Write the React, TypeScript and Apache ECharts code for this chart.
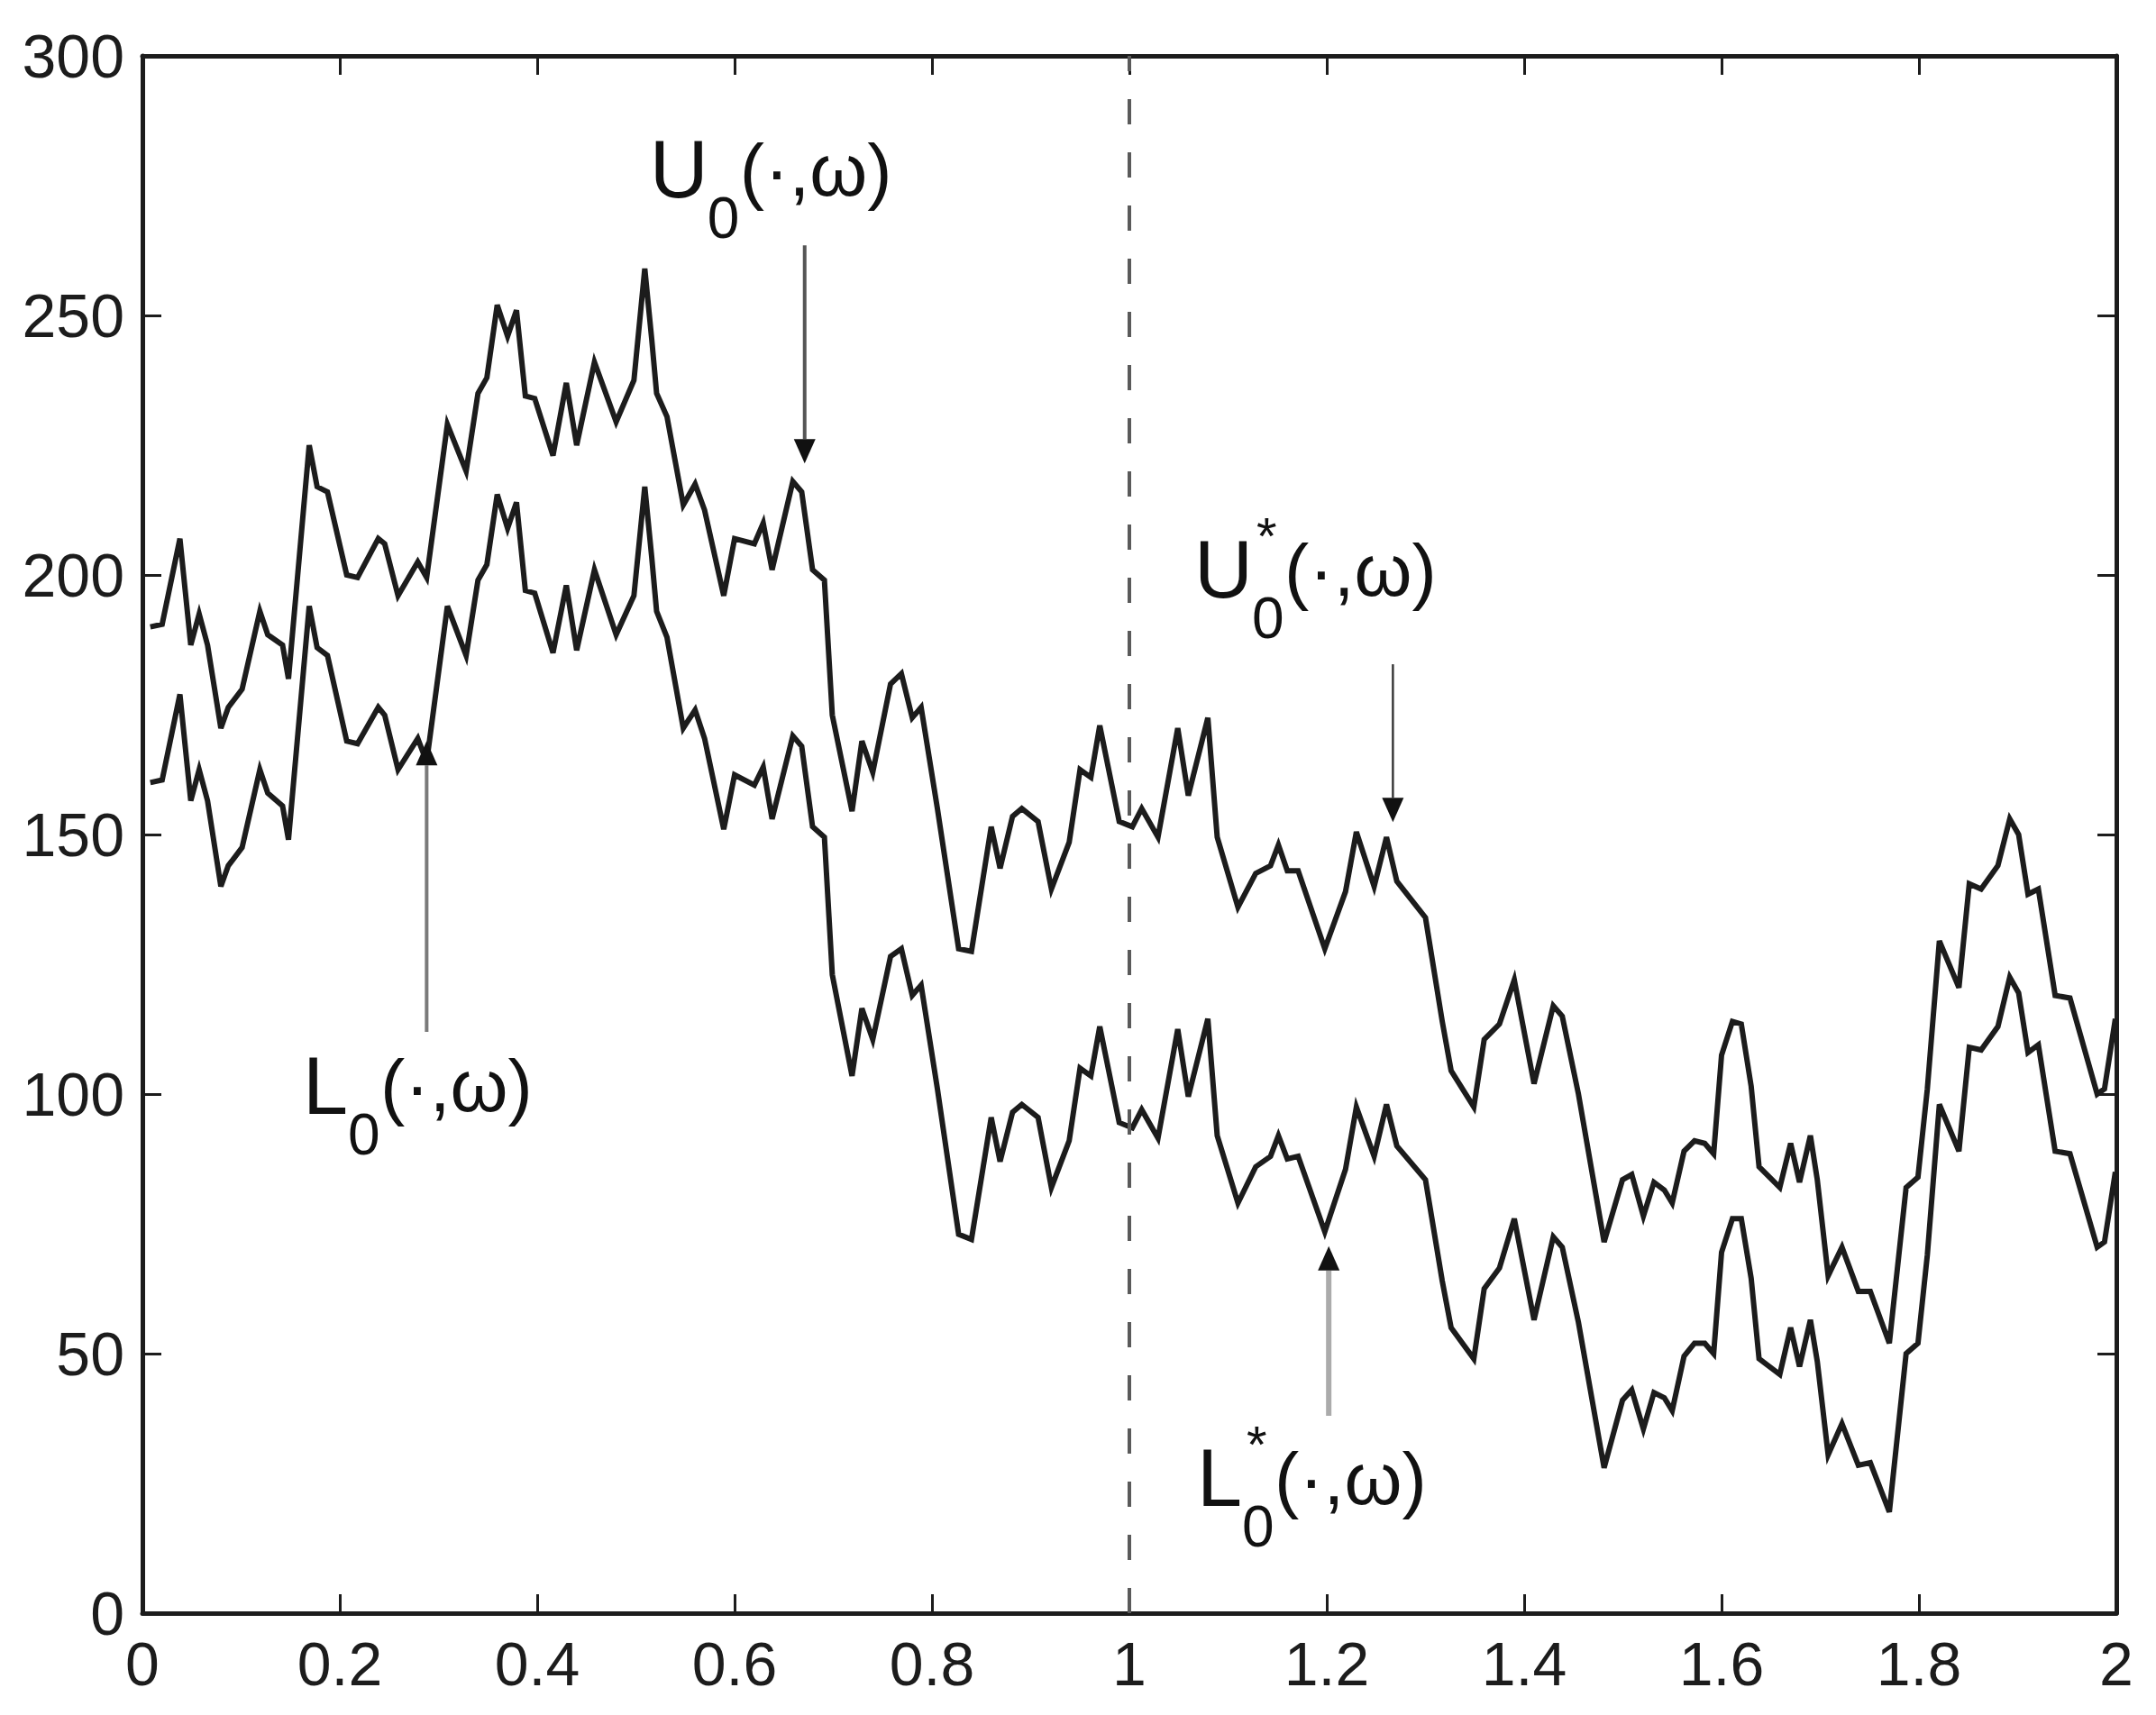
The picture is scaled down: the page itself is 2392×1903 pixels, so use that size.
import React, { useEffect, useRef } from "react";
import * as echarts from "echarts";

// time grid (shared by both curves)
const T = [
  0.008, 0.02, 0.038, 0.049, 0.0575, 0.066, 0.0795, 0.087, 0.101, 0.119, 0.127, 0.142, 0.148, 0.169, 0.177, 0.1875,
  0.207, 0.218, 0.239, 0.2455, 0.259, 0.279, 0.288, 0.309, 0.328, 0.34, 0.349, 0.3595, 0.37, 0.379, 0.388, 0.3975,
  0.416, 0.4295, 0.44, 0.458, 0.48, 0.498, 0.509, 0.516, 0.521, 0.5315, 0.548, 0.56, 0.5696, 0.589, 0.6, 0.62,
  0.629, 0.638, 0.659, 0.668, 0.679, 0.691, 0.699, 0.719, 0.729, 0.74, 0.758, 0.769, 0.78, 0.789, 0.8055, 0.827,
  0.84, 0.86, 0.869, 0.8816, 0.891, 0.9075, 0.921, 0.939, 0.95, 0.961, 0.97, 0.9897, 1.003, 1.0125, 1.029, 1.049,
  1.0597, 1.0795, 1.089, 1.11, 1.128, 1.143, 1.151, 1.16, 1.171, 1.198, 1.219, 1.23, 1.248, 1.2605, 1.271, 1.3,
  1.317, 1.326, 1.349, 1.3595, 1.375, 1.39, 1.41, 1.4295, 1.4386, 1.455, 1.481, 1.4996, 1.509, 1.5208, 1.5315, 1.542,
  1.55, 1.562, 1.5726, 1.583, 1.592, 1.6, 1.611, 1.62, 1.63, 1.638, 1.659, 1.67, 1.679, 1.69, 1.697, 1.708,
  1.722, 1.7386, 1.7507, 1.77, 1.787, 1.799, 1.8085, 1.8207, 1.8405, 1.851, 1.863, 1.88, 1.892, 1.901, 1.9105, 1.921,
  1.938, 1.953, 1.9806, 1.988, 1.999,
];

// upper curve U0(.,w)
const U = [
  190, 190.5, 207, 186.5, 192.5, 186.5, 170.5, 174.5, 178, 193, 188.5, 186.5, 180, 225, 217, 216,
  200, 199.5, 207, 206, 196, 202.5, 199.5, 229, 220, 235, 238, 252, 246, 251, 234.5, 234,
  223, 237, 225, 241, 229.5, 237.5, 259, 245.5, 235, 230.5, 213.5, 217.5, 212.5, 196, 207, 206,
  210, 201, 218, 216, 201, 199, 173, 154.5, 168, 162, 179, 181, 172.5, 174.5, 155, 128,
  127.5, 151.5, 143.5, 153.5, 155, 152.5, 139.5, 148.5, 162.5, 161, 171, 152.5, 151.5, 155, 149.5, 170.5,
  157.5, 172.5, 149.5, 136, 142.5, 144, 148, 143, 143, 128, 139, 150.5, 140, 149.5, 141, 134,
  114, 104.5, 97.5, 110.5, 113.5, 122, 102, 117, 115, 100, 71.5, 83.5, 84.5, 76.5, 83, 81.5,
  79, 89, 91, 90.5, 88.5, 107.5, 114, 113.5, 101.5, 86, 82, 90.5, 83, 92, 83.5, 65,
  70.5, 62, 62, 52, 82, 84, 101, 129.5, 120.5, 140.5, 139.5, 144, 153, 150, 138.5, 139.5,
  119, 118.5, 100, 101, 114.5,
];

// lower curve L0(.,w)
const L = [
  160, 160.5, 177, 156.5, 162.5, 156.5, 140, 144, 147.5, 162.5, 158, 155.5, 149, 194, 186, 184.5,
  168, 167.5, 174.5, 173, 162.5, 168.5, 164, 194, 184.5, 199, 202, 215.5, 209, 214, 197, 196.5,
  185, 198, 185.5, 201, 188.5, 196, 217, 203.5, 193, 188, 170.5, 174, 168.5, 151, 161.5, 159.5,
  163, 153, 169, 167, 151.5, 149.5, 123, 103.5, 116.5, 110.5, 126.5, 128, 119, 121, 101, 73,
  72, 95.5, 87, 96.5, 98, 95.5, 82, 91, 105, 103.5, 113, 94.5, 93.5, 97, 91.5, 112.5,
  99.5, 114.5, 92, 79, 86, 88, 92, 87.5, 88, 73.5, 85.5, 97.5, 88, 98, 90, 83.5,
  64, 55, 49, 62.5, 66.5, 76, 56.5, 72.5, 70.5, 56, 28, 41, 43, 35.5, 42.5, 41.5,
  39, 49.5, 52, 52, 50, 69.5, 76, 76, 64.5, 49, 46, 55, 47.5, 56.5, 48.5, 30.5,
  36.5, 28.5, 29, 19.5, 50, 52, 69, 98, 89, 109, 108.5, 113, 122.5, 119.5, 108, 109.5,
  89, 88.5, 70.5, 71.5, 85,
];

// axes
const X_MIN = 0;
const X_MAX = 2;
const X_STEP = 0.2;
const Y_MIN = 0;
const Y_MAX = 300;
const Y_STEP = 50;
const DIVIDER_X = [1];

// annotation arrows (data coordinates): x, start value, tip value
const ARROW_NAMES = ["U0", "U0*", "L0", "L0*"];
const ARROW_X = [0.671, 1.267, 0.288, 1.202];
const ARROW_FROM = [263.5, 182.8, 112, 38];
const ARROW_TIP = [221.5, 152.4, 168, 70.7];

// annotation labels (anchor: left of main letter, cap centre)
const LABEL_MAIN = ["U", "U", "L", "L"];
const LABEL_STAR = [false, true, false, true];
const LABEL_X = [0.514, 1.0658, 0.1626, 1.0685];
const LABEL_Y = [278.1, 201.0, 101.6, 26.0];

const FONT = '"Liberation Sans", Arial, Helvetica, sans-serif';
const INK = "#1c1c1c";

export default function App() {
  const ref = useRef<HTMLDivElement>(null);

  useEffect(() => {
    if (!ref.current) return;
    const chart = echarts.init(ref.current, null, { renderer: "svg" });

    const axisLine = { show: true, onZero: false, lineStyle: { color: INK, width: 5 } };
    const axisTick = { show: true, inside: true, length: 21, lineStyle: { color: INK, width: 3 } };
    const fmt = (v: number) => String(Math.round(v * 10) / 10);

    chart.setOption({
      animation: false,
      backgroundColor: "#ffffff",
      grid: { left: 158, right: 44, top: 62, bottom: 113, containLabel: false },
      xAxis: [
        {
          type: "value", min: X_MIN, max: X_MAX, interval: X_STEP, position: "bottom",
          axisLine, axisTick, splitLine: { show: false },
          axisLabel: { show: true, margin: 22, fontSize: 68, fontFamily: FONT, color: INK, formatter: fmt },
        },
        {
          type: "value", min: X_MIN, max: X_MAX, interval: X_STEP, position: "top",
          axisLine, axisTick, splitLine: { show: false }, axisLabel: { show: false },
        },
      ],
      yAxis: [
        {
          type: "value", min: Y_MIN, max: Y_MAX, interval: Y_STEP, position: "left",
          axisLine, axisTick, splitLine: { show: false },
          axisLabel: { show: true, margin: 20, fontSize: 68, fontFamily: FONT, color: INK, formatter: fmt },
        },
        {
          type: "value", min: Y_MIN, max: Y_MAX, interval: Y_STEP, position: "right",
          axisLine, axisTick, splitLine: { show: false }, axisLabel: { show: false },
        },
      ],
      series: [
        {
          name: "U0", type: "line", xAxisIndex: 0, yAxisIndex: 0,
          data: T.map((t, i) => [t, U[i]]),
          showSymbol: false, symbol: "none", silent: true, z: 3,
          lineStyle: { color: INK, width: 6, join: "miter" },
          markLine: {
            silent: true, symbol: ["none", "none"], label: { show: false },
            lineStyle: { type: [28, 31], color: "#5a5a5a", width: 4 },
            data: DIVIDER_X.map((x) => ({ xAxis: x })),
          },
        },
        {
          name: "L0", type: "line", xAxisIndex: 0, yAxisIndex: 0,
          data: T.map((t, i) => [t, L[i]]),
          showSymbol: false, symbol: "none", silent: true, z: 3,
          lineStyle: { color: INK, width: 6, join: "miter" },
        },
      ],
    });

    const toPx = (x: number, y: number) =>
      chart.convertToPixel({ xAxisIndex: 0, yAxisIndex: 0 }, [x, y]) as number[];

    const shaftColors = ["#555555", "#3a3a3a", "#7a7a7a", "#ababab"];
    const shaftWidths = [4, 2.5, 4, 6];
    const graphics: any[] = [];

    ARROW_NAMES.forEach((_, i) => {
      const [px, py0] = toPx(ARROW_X[i], ARROW_FROM[i]);
      const [, py1] = toPx(ARROW_X[i], ARROW_TIP[i]);
      const dir = py1 > py0 ? 1 : -1;
      const head = 27;
      const hw = 12;
      const baseY = py1 - dir * head;
      graphics.push({
        type: "line", silent: true, z: 10,
        shape: { x1: px, y1: py0, x2: px, y2: baseY },
        style: { stroke: shaftColors[i], lineWidth: shaftWidths[i] },
      });
      graphics.push({
        type: "polygon", silent: true, z: 11,
        shape: { points: [[px - hw, baseY], [px + hw, baseY], [px, py1]] },
        style: { fill: "#111111" },
      });
    });

    LABEL_MAIN.forEach((m, i) => {
      const [px, py] = toPx(LABEL_X[i], LABEL_Y[i]);
      const mainW = m === "U" ? 64 : 50;
      const txt = (text: string, dx: number, dy: number, size: number) => ({
        type: "text", silent: true, z: 12, x: px + dx, y: py + dy,
        style: { text, fontSize: size, fontFamily: FONT, fill: "#111111", align: "left", verticalAlign: "middle" },
      });
      graphics.push(txt(m, 0, 0, 90));
      graphics.push(txt("0", mainW, 54, 64));
      graphics.push(txt("(·,ω)", mainW + 36, 0, 82));
      if (LABEL_STAR[i]) graphics.push(txt("*", mainW + 5, -38, 58));
    });

    chart.setOption({ graphic: graphics });

    return () => chart.dispose();
  }, []);

  return (
    <div
      ref={ref}
      style={{ position: "absolute", left: 0, top: 0, width: 2392, height: 1903, background: "#fff" }}
    />
  );
}
